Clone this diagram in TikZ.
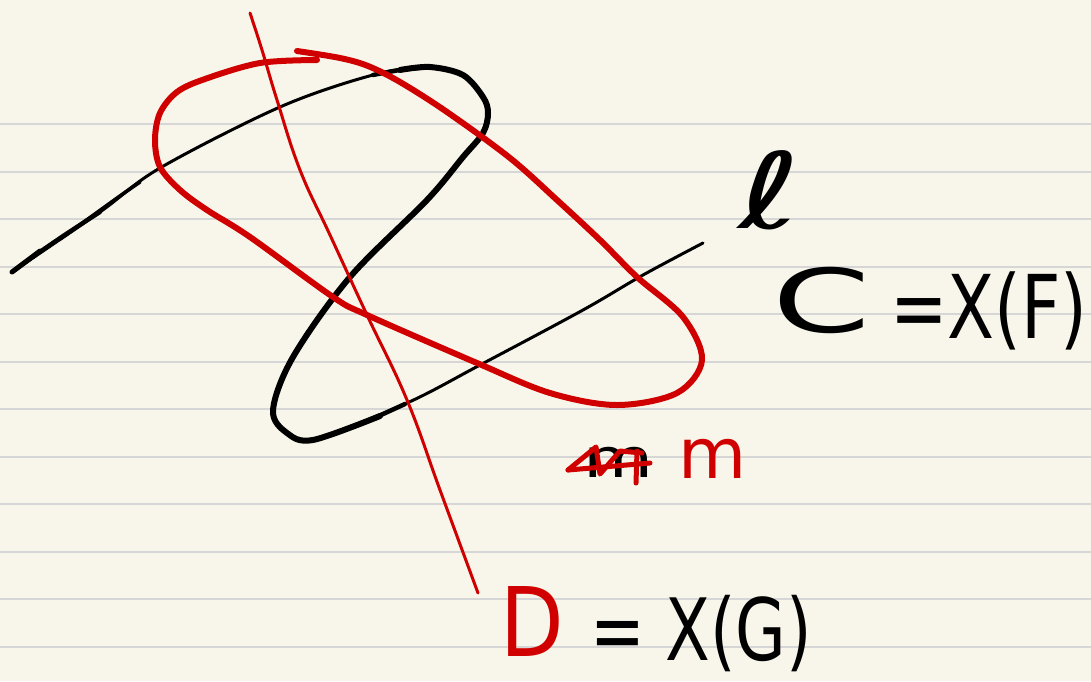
\documentclass[tikz,border=0pt]{standalone}
\usepackage{fontspec}
\setmainfont{DejaVu Sans}
\definecolor{paper}{RGB}{248,246,234}
\definecolor{rule}{RGB}{214,214,214}
\definecolor{pen}{RGB}{208,0,0}
\begin{document}
\begin{tikzpicture}[x=1pt,y=-1pt,line cap=round,line join=round,
  thinblack/.style={draw=black,line width=3pt},
  thickblack/.style={draw=black,line width=6pt},
  redpen/.style={draw=pen,line width=6pt},
  thinred/.style={draw=pen,line width=3pt},
  lbl/.style={inner sep=0pt,outer sep=0pt}]
\useasboundingbox (0,0) rectangle (1091,681);
\fill[paper] (0,0) rectangle (1091,681);
\foreach \k in {0,...,11}{
  \draw[rule,line width=2pt] (0,124+47.5*\k) -- (1091,124+47.5*\k);
}
% black curve C
\draw[thinblack] plot[smooth,tension=0.55] coordinates {(12,272) (100,212) (160,168) (280,107) (373,75) (430,67) (463,75) (483,97) (488,113) (483,133) (463,157) (427,200) (350,277) (293,357) (273,410) (287,433) (313,440) (407,403) (480,365) (583,310) (643,275) (703,243)};
\draw[draw=black,line width=5pt] (12,272) -- (40,251);
\draw[draw=black,line width=4.3pt] (14,270.5) .. controls (50,244) and (75,228) .. (100,212);
\draw[draw=black,line width=3.6pt] (60,239) .. controls (90,218) and (115,199) .. (140,182);
\draw[draw=black,line width=4.5pt] plot[smooth,tension=0.55] coordinates {(373,75) (400,70) (430,67)};
\draw[thickblack] plot[smooth,tension=0.55] coordinates {(400,70) (430,67) (463,75) (483,97) (488,113) (483,133) (463,157) (427,200) (350,277) (293,357) (273,410) (287,433) (313,440) (380,416)};
\draw[draw=black,line width=4.5pt] (370,420) -- (405,404);
% red closed curve D
\draw[redpen] plot[smooth,tension=0.55] coordinates {(297,51) (340,58) (368,66) (400,82) (447,112) (510,158) (557,200) (600,240) (637,277) (683,317) (702,360) (677,393) (617,405) (550,393) (477,363) (367,315) (333,297) (250,237) (207,210) (180,190) (160,167) (155,140) (160,113) (177,92) (205,79) (260,63) (317,60)};
% red thin line
\draw[thinred] plot[smooth,tension=0.7] coordinates {(250,13) (262,50) (277,100) (300,170) (330,235) (367,315) (407,400) (440,490) (478,593)};
% labels
\node[lbl,anchor=base west,xscale=1.45] (ell) at (738,228) {\fontsize{105}{105}\selectfont ℓ};
\node[lbl,anchor=base west,xscale=1.6] (Clab) at (772,332) {\fontsize{88}{88}\selectfont C};
\node[lbl,anchor=base west,xscale=0.78] (Ceq) at (890,338) {\fontsize{88}{88}\selectfont =X(F)};
\node[lbl,anchor=base west,xscale=0.86,text=pen] (Dlab) at (500,656) {\fontsize{96}{96}\selectfont D};
\node[lbl,anchor=base west,xscale=0.76] (Deq) at (590,660) {\fontsize{86}{86}\selectfont = X(G)};
\node[lbl,anchor=base west,yscale=0.75] (oldm) at (583,477) {\fontsize{72}{72}\selectfont m};
\draw[thinred,line width=5pt] (568,470) -- (596,447) -- (600,474) -- (620,451) -- (642,453);
\draw[thinred,line width=5pt] (568,470) -- (650,463);
\draw[thinred,line width=5pt] (637,451) -- (636,483);
\node[lbl,anchor=base west,text=pen] (mlab) at (678,478) {\fontsize{70}{70}\selectfont m};
\end{tikzpicture}
\end{document}
